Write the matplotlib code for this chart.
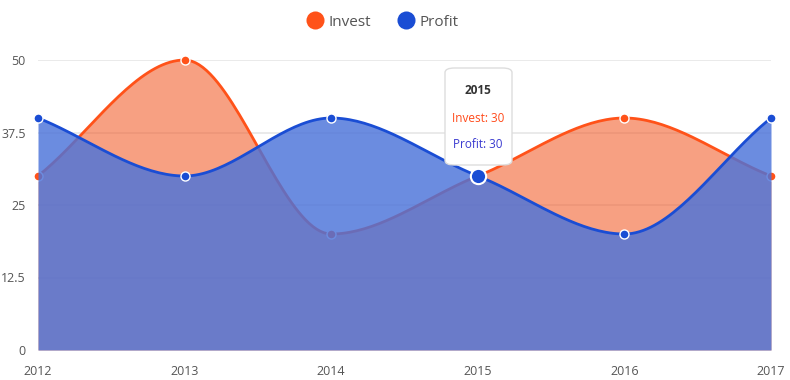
import numpy as np
import matplotlib
matplotlib.use("Agg")
import matplotlib.pyplot as plt
from matplotlib.lines import Line2D
from matplotlib.patches import FancyBboxPatch

years = ["2012", "2013", "2014", "2015", "2016", "2017"]
invest = [30, 50, 20, 30, 40, 30]
profit = [40, 30, 40, 30, 20, 40]
yticks = [0, 12.5, 25, 37.5, 50]
ytick_labels = ["0", "12.5", "25", "37.5", "50"]

plt.rcParams['font.family'] = ['Open Sans', 'DejaVu Sans']

INV_LINE = "#FF5219"
INV_FILL = "#F2612F"
PRO_LINE = "#1A4DD4"
PRO_FILL = "#4B73DA"


def monotone(xs, ys, n=40):
    xs = np.asarray(xs, float)
    ys = np.asarray(ys, float)
    h = np.diff(xs)
    d = np.diff(ys) / h
    m = np.zeros_like(ys)
    m[0] = d[0]
    m[-1] = d[-1]
    for i in range(1, len(ys) - 1):
        if d[i - 1] * d[i] <= 0:
            m[i] = 0
        else:
            m[i] = 2 / (1 / d[i - 1] + 1 / d[i])
    outx, outy = [], []
    for i in range(len(xs) - 1):
        t = np.linspace(0, 1, n, endpoint=(i == len(xs) - 2))
        h00 = 2 * t**3 - 3 * t**2 + 1
        h10 = t**3 - 2 * t**2 + t
        h01 = -2 * t**3 + 3 * t**2
        h11 = t**3 - t**2
        outx.append(xs[i] + t * h[i])
        outy.append(h00 * ys[i] + h10 * h[i] * m[i] + h01 * ys[i + 1] + h11 * h[i] * m[i + 1])
    return np.concatenate(outx), np.concatenate(outy)


fig = plt.figure(figsize=(7.9, 3.8), dpi=100)
ax = fig.add_axes([38 / 790, 30 / 380, (771 - 38) / 790, 290 / 380])
x = np.arange(len(years))

ix, iy = monotone(x, invest)
px, py = monotone(x, profit)

for yv in yticks[1:]:
    ax.axhline(yv, color="#e6e6e6", lw=1.2, zorder=0)

ax.fill_between(ix, 0, iy, color=INV_FILL, alpha=0.6, lw=0, zorder=1)
ax.plot(ix, iy, color=INV_LINE, lw=2.0, zorder=2, clip_on=False, solid_capstyle='round')
ax.plot(x, invest, 'o', color=INV_LINE, mec="white", mew=1.0, ms=6.5, zorder=3, clip_on=False)

ax.fill_between(px, 0, py, color=PRO_FILL, alpha=0.82, lw=0, zorder=4)
ax.plot(px, py, color=PRO_LINE, lw=2.0, zorder=5, clip_on=False, solid_capstyle='round')
ax.plot(x, profit, 'o', color=PRO_LINE, mec="white", mew=1.0, ms=6.5, zorder=6, clip_on=False)

# highlighted point (hover)
ax.plot([x[3]], [profit[3]], 'o', color=PRO_LINE, mec="white", mew=1.5, ms=11, zorder=7, clip_on=False)

ax.set_xlim(x[0], x[-1])
ax.set_ylim(0, 50)
ax.set_yticks(yticks)
ax.set_yticklabels(ytick_labels)
ax.set_xticks(x)
ax.set_xticklabels(years)
for s in ax.spines.values():
    s.set_visible(False)
ax.tick_params(axis='both', length=0, labelsize=9, colors="#555555")
ax.tick_params(axis='y', pad=9)
ax.tick_params(axis='x', pad=11)

# tooltip
box = FancyBboxPatch((445 / 790, (380 - 165) / 380), 67 / 790, 97 / 380,
                     boxstyle="round,pad=0,rounding_size=0.012",
                     transform=fig.transFigure, facecolor="white",
                     edgecolor="#dddddd", lw=1.0, zorder=10)
fig.patches.append(box)
fig.text(478 / 790, 1 - 90 / 380, years[3], ha='center', va='center', fontsize=8.5,
         fontweight='bold', color="#333333", zorder=11)
fig.text(478 / 790, 1 - 118 / 380, f"Invest: {invest[3]}", ha='center', va='center',
         fontsize=8.5, color="#FF4A1A", zorder=11)
fig.text(478 / 790, 1 - 145 / 380, f"Profit: {profit[3]}", ha='center', va='center',
         fontsize=8.5, color="#3A3AD0", zorder=11)

handles = [Line2D([], [], marker='o', ls='', color=INV_LINE, ms=13, mew=0),
           Line2D([], [], marker='o', ls='', color=PRO_LINE, ms=13, mew=0)]
fig.legend(handles, ["Invest", "Profit"], loc='center', bbox_to_anchor=(383 / 790, 1 - 22 / 380),
           ncol=2, frameon=False, fontsize=11, handletextpad=0.4, columnspacing=1.8,
           labelcolor="#555555", handlelength=1.0)

fig.savefig("out.png", dpi=100)
